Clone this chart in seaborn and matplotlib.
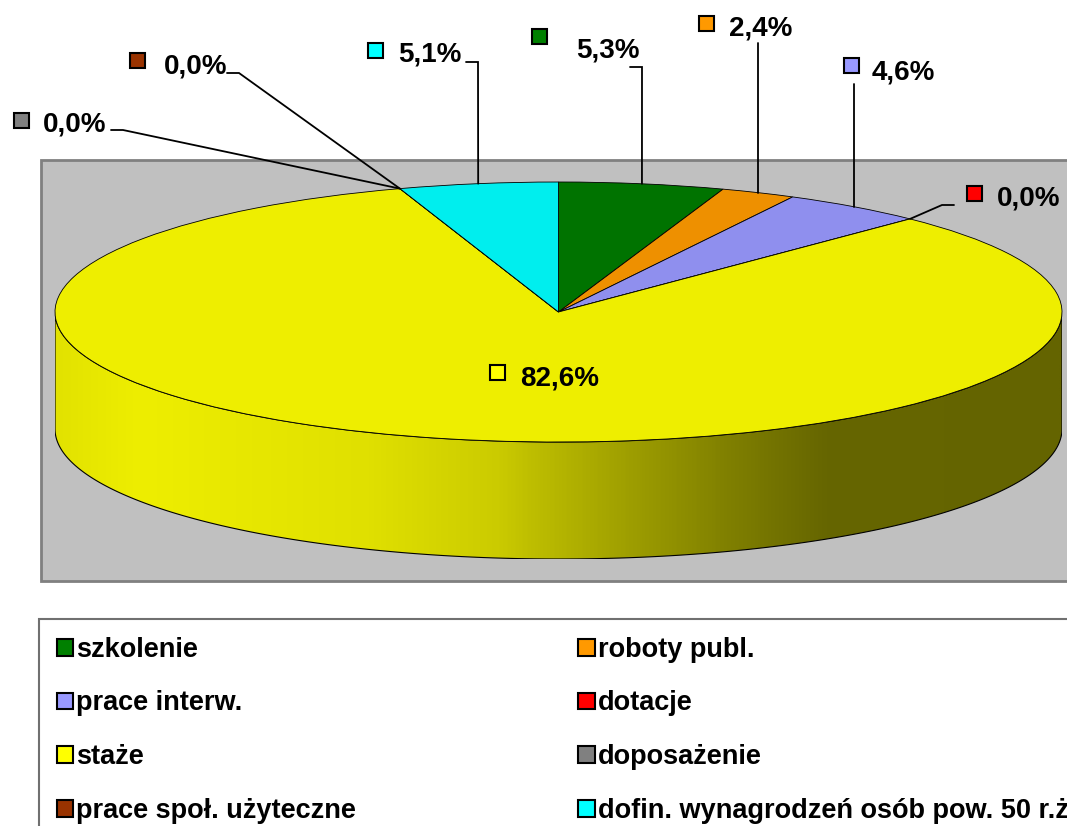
import numpy as np
import matplotlib
matplotlib.use("Agg")
import matplotlib.pyplot as plt
from matplotlib.patches import Rectangle, Patch, Polygon
from matplotlib.colors import LinearSegmentedColormap
import seaborn as sns

# dane
categories = ["szkolenie", "roboty publ.", "prace interw.", "dotacje", "staże",
              "doposażenie", "prace społ. użyteczne",
              "dofin. wynagrodzeń osób pow. 50 r.ż."]
shares = [5.3, 2.4, 4.6, 0.0, 82.6, 0.0, 0.0, 5.1]

# kolory: klucz legendy / wierzch tortu
key_colors = ["#008000", "#FF9900", "#9999FF", "#FF0000", "#FFFF00",
              "#808080", "#993300", "#00FFFF"]
top_colors = ["#007300", "#EE9000", "#8F8FEE", "#EE0000", "#EEEE00",
              "#787878", "#903000", "#00EEEE"]

# rozmieszczenie etykiet (piksele): marker, tekst (lewa krawedz, linia bazowa), poczatek linii
label_marker = [(532, 29), (699, 16), (844, 58), (967, 186), (490, 365),
                (14, 113), (130, 53), (368, 43)]
label_text = [(576, 58), (729, 36), (872, 79), (997, 206), (520, 385),
              (43, 131), (164, 73), (398, 62)]
leader_start = [(630, 67), (None, 43), (None, 84), (954, 205), None,
                (111, 130), (227, 73), (466, 62)]

W, H = 1067, 826
CX, CY, RX, RY, DEPTH = 558.5, 312, 503.5, 130, 117

sns.set_style("white")
plt.rcParams["font.family"] = ["Liberation Sans", "DejaVu Sans"]
plt.rcParams["text.color"] = "black"

fig = plt.figure(figsize=(W / 100, H / 100), dpi=100)

# tlo: obszar wykresu
bg = fig.add_axes([0, 0, 1, 1])
bg.set_xlim(0, W)
bg.set_ylim(H, 0)
bg.axis("off")
bg.add_patch(Rectangle((41, 160), W, 421, facecolor="#C0C0C0",
                       edgecolor="#808080", linewidth=2))

# tort 3D
pie_ax = fig.add_axes([(CX - RX) / W, 1 - (CY + RY + DEPTH) / H,
                       2 * RX / W, (2 * RY + DEPTH) / H], zorder=2)
d = DEPTH / RY
t = np.linspace(np.pi, 2 * np.pi, 300)
top_edge = np.column_stack([np.cos(t), np.sin(t)])
bot_edge = top_edge[::-1] - [0, d]
side = Polygon(np.vstack([top_edge, bot_edge]), closed=True, facecolor="none",
               edgecolor="black", linewidth=0.8, zorder=2)
pie_ax.add_patch(side)
side_cmap = LinearSegmentedColormap.from_list("side", [
    (0.0, "#E2E200"), (0.082, "#EEEE00"), (0.31, "#E0E000"), (0.44, "#CBCB00"),
    (0.473, "#BEBE00"), (0.571, "#9E9E00"), (0.668, "#808000"),
    (0.766, "#666600"), (1.0, "#646400")])
im = pie_ax.imshow(np.linspace(0, 1, 512)[None, :], cmap=side_cmap,
                   extent=[-1, 1, -1 - d, 0], aspect="auto", zorder=1)
im.set_clip_path(side)

wedges, _ = pie_ax.pie(shares, colors=top_colors, startangle=90, counterclock=False,
                       wedgeprops=dict(edgecolor="black", linewidth=0.6))
for w in wedges:
    w.set_zorder(3)
pie_ax.set_aspect("auto")
pie_ax.set_xlim(-1, 1)
pie_ax.set_ylim(-1 - d, 1)
pie_ax.axis("off")

# etykiety i linie odniesienia
ov = fig.add_axes([0, 0, 1, 1], zorder=3)
ov.set_xlim(0, W)
ov.set_ylim(H, 0)
ov.axis("off")
ov.patch.set_alpha(0)

cum = np.cumsum(shares) - np.array(shares) / 2
for i, v in enumerate(shares):
    theta = 2 * np.pi * cum[i] / sum(shares)
    ax_x = CX + RX * np.sin(theta)
    ax_y = CY - RY * np.cos(theta)
    mx, my = label_marker[i]
    ov.add_patch(Rectangle((mx, my), 15, 15, facecolor=key_colors[i],
                           edgecolor="black", linewidth=1.5))
    tx, ty = label_text[i]
    ov.text(tx, ty, f"{v:.1f}%".replace(".", ","), fontsize=20, color="black",
            fontweight="bold", va="baseline", ha="left")
    ls = leader_start[i]
    if ls is None:
        continue
    sx, sy = ls
    if sx is None:
        xs, ys = [ax_x, ax_x], [sy, ax_y]
    else:
        step = 12 if ax_x > sx else -12
        xs, ys = [sx, sx + step, ax_x], [sy, sy, ax_y]
    ov.plot(xs, ys, color="black", linewidth=1.3, solid_joinstyle="miter")

# legenda (wiersze: pary kategorii)
order = [0, 2, 4, 6, 1, 3, 5, 7]
handles = [Patch(facecolor=key_colors[i], edgecolor="black", linewidth=1.5) for i in order]
labels = [categories[i] for i in order]
leg = fig.legend(handles, labels, ncol=2, loc="upper left",
                 bbox_to_anchor=(39 / W, 1 - 619 / H), borderaxespad=0,
                 prop=dict(family=["Liberation Sans", "DejaVu Sans"], weight="bold", size=19.5),
                 handlelength=0.6, handleheight=0.57, handletextpad=0.12,
                 borderpad=0.66, labelspacing=1.02, columnspacing=8.2,
                 fancybox=False, framealpha=1, edgecolor="#707070",
                 labelcolor="black")
leg.get_frame().set_linewidth(1.5)

fig.savefig("out.png", dpi=100)
